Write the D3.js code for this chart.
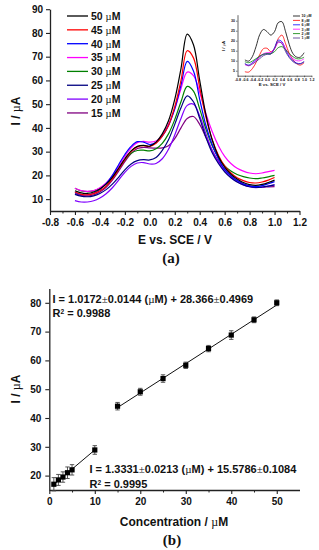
<!DOCTYPE html>
<html>
<head>
<meta charset="utf-8">
<script src="https://cdn.jsdelivr.net/npm/d3@7"></script>
<style>
  body { margin: 0; background: #fff; }
  svg { display: block; font-family: 'Liberation Sans', Arial, sans-serif; }
</style>
</head>
<body>
<div id="chart"></div>
<script>
// ---- (a) DPV curves ----
const voltages = [-0.6, -0.55, -0.5, -0.45, -0.4, -0.35, -0.3, -0.25, -0.2, -0.15, -0.1, -0.05, 0, 0.05, 0.1, 0.15,
  0.2, 0.25, 0.3, 0.35, 0.4, 0.45, 0.5, 0.55, 0.6, 0.65, 0.7, 0.75, 0.8, 0.85, 0.9, 0.95, 1.0]
const concLabels = ['50', '45', '40', '35', '30', '25', '20', '15']
const curveColors = ['#000000', '#ff0000', '#0000ff', '#ff00ff', '#008000', '#000080', '#8000ff', '#800080']
const i50 = [13.5, 12.6, 12.4, 13.0, 14.3, 16.3, 19.2, 23.0, 27.0, 30.3, 32.2, 32.6, 32.3, 34.0, 37.5, 43, 52, 65, 79.5, 75, 60, 45.5, 35, 28, 23.5, 20.5, 18.5, 17.0, 16.1, 15.8, 16.2, 17.0, 18.0]
const i45 = [13.0, 12.0, 11.8, 12.3, 13.5, 15.5, 18.5, 22.5, 26.5, 30.0, 32.0, 32.5, 32.2, 33.5, 36.5, 41, 49, 60, 72.5, 69.5, 57, 44.5, 35, 28.5, 24, 21, 19, 17.8, 17.0, 16.8, 17.2, 18.0, 19.1]
const i40 = [12.8, 11.9, 11.8, 12.5, 14.0, 16.5, 20.0, 24.5, 28.8, 32.2, 34.2, 34.0, 33.0, 33.8, 36.5, 41, 48, 58, 68, 64, 52, 41, 33, 27, 22.5, 19.8, 17.8, 16.5, 15.6, 15.3, 15.7, 16.5, 17.4]
const i35 = [14.6, 13.6, 13.3, 13.6, 14.8, 16.8, 19.8, 23.8, 28.0, 31.6, 33.8, 34.3, 34.0, 34.5, 37.0, 41.5, 48, 56.5, 63.5, 62, 55, 46, 38.5, 32.5, 28, 25, 23, 21.8, 21.0, 20.7, 21.0, 21.6, 22.1]
const i30 = [14.6, 13.5, 13.2, 13.5, 14.6, 16.5, 19.2, 22.8, 26.5, 29.3, 30.5, 30.6, 30.3, 31.2, 33.5, 37.5, 43.5, 51, 57.5, 55.5, 48, 39.5, 32.5, 27.5, 24, 21.8, 20.4, 19.5, 18.9, 18.6, 18.9, 19.4, 20.0]
const i25 = [12.0, 11.2, 11.0, 11.4, 12.4, 14.0, 16.3, 19.2, 22.3, 24.8, 26.2, 26.6, 26.5, 27.5, 30.5, 35, 41.5, 48.5, 53.5, 51, 44, 36, 29.5, 25, 21.5, 19, 17.2, 16.0, 15.2, 14.9, 15.1, 15.5, 16.0]
const i20 = [9.4, 8.8, 8.8, 9.3, 10.5, 12.3, 14.8, 18.0, 21.3, 23.8, 25.2, 25.4, 24.8, 25.0, 27.0, 31, 37, 44, 49.5, 50, 45, 37.5, 30.5, 25.5, 21.8, 19.2, 17.3, 16.0, 15.2, 14.8, 15.0, 15.5, 16.0]
const i15 = [12.3, 11.5, 11.3, 11.8, 13.0, 15.0, 18.0, 21.8, 25.8, 29.2, 31.3, 31.8, 31.6, 31.5, 31.6, 32.5, 35.5, 40, 44, 44.8, 41.5, 36, 30.5, 26, 22.5, 19.8, 17.8, 16.4, 15.5, 15.0, 15.0, 15.2, 15.3]
const mainSeries = [i50, i45, i40, i35, i30, i25, i20, i15]
const mainXTicks = [-0.8, -0.6, -0.4, -0.2, 0, 0.2, 0.4, 0.6, 0.8, 1.0, 1.2]
const mainYTicks = [10, 20, 30, 40, 50, 60, 70, 80, 90]

// ---- inset (low concentrations) ----
const insetVoltages = [-0.6, -0.5, -0.4, -0.3, -0.2, -0.1, 0, 0.1, 0.2, 0.3, 0.4, 0.5, 0.6, 0.7, 0.8, 0.9, 1.0]
const insetLabels = ['10', '8', '6', '3', '2', '1']
const insetColors = ['#000000', '#ff0000', '#0000ff', '#ff00ff', '#008000', '#4b2c8c']
const k10 = [10.4, 9.8, 12, 17, 23, 25.6, 24.5, 22.8, 24.5, 29, 29.5, 24.5, 18, 13.5, 11.8, 11.8, 14]
const k8 = [4.5, 4.3, 6, 9, 13, 16, 16.2, 14.5, 16, 21, 22.8, 18.5, 13.5, 10.5, 8.5, 7.8, 9]
const k6 = [8.5, 7.8, 9, 10.5, 12, 13.2, 13.5, 13.5, 16.5, 20.3, 19.5, 15.5, 12, 10, 8.8, 8.5, 9.5]
const k3 = [8, 7.5, 8.5, 10, 12, 13.5, 14, 14.2, 16, 19, 19, 16, 13, 11, 10, 10, 11]
const k2 = [9.5, 9, 9.8, 11, 12.3, 13.2, 13.5, 13.5, 14.5, 16.5, 17, 15.5, 13.5, 12, 11, 11, 11.8]
const k1 = [8.5, 7.5, 8.3, 9.5, 11, 12.5, 13.2, 13.3, 16, 19.5, 18.5, 14.5, 11.5, 9.5, 8.5, 8.5, 9.5]
const insetSeries = [k10, k8, k6, k3, k2, k1]
const insetYTicks = [5, 10, 15, 20, 25, 30]

// ---- (b) calibration ----
const conc = [1, 2, 3, 4, 5, 10, 15, 20, 25, 30, 35, 40, 45, 50]
const current = [17, 18.5, 19.5, 21, 22, 28.9, 44.1, 49.1, 53.7, 58.3, 64.1, 68.8, 74.1, 80]
const currentErr = [2.3, 1.9, 1.8, 2.0, 1.8, 1.5, 1.3, 1.2, 1.3, 1.1, 1.1, 1.5, 1.0, 1.0]
const fitSlopes = [1.3331, 1.0172]
const fitIntercepts = [15.5786, 28.366]
const fitRanges = [[1, 10], [15, 50]]
const calXTicks = [0, 10, 20, 30, 40, 50]
const calYTicks = [20, 30, 40, 50, 60, 70, 80]

const W = 319, H = 550
const svg = d3.select('#chart').append('svg').attr('width', W).attr('height', H)
svg.append('rect').attr('width', W).attr('height', H).attr('fill', '#fff')

const sans = "'Liberation Sans', Arial, sans-serif"
const serif = "'Liberation Serif', 'Times New Roman', serif"

function styleAxis(g, size) {
  g.select('.domain').attr('stroke', '#222').attr('stroke-width', 1.3)
  g.selectAll('.tick line').attr('stroke', '#222').attr('stroke-width', 1.1)
  g.selectAll('.tick text').attr('font-family', sans).attr('font-weight', 'bold')
    .attr('font-size', size).attr('fill', '#111')
}

// mixed text with serif µ / ±
function richText(sel, parts) {
  parts.forEach(p => {
    const t = sel.append('tspan').text(p.t)
    if (p.serif) t.attr('font-family', serif).attr('font-weight', 'normal')
    if (p.sup) t.attr('font-size', '0.6em').attr('baseline-shift', 'super')
  })
  return sel
}

// ================= (a) =================
const xA = d3.scaleLinear().domain([-0.8, 1.2]).range([50, 299.5])
const yA = d3.scaleLinear().domain([5, 90]).range([211, 9.2])

const gA = svg.append('g')
const axA = gA.append('g').attr('transform', `translate(0,${yA(5)})`)
  .call(d3.axisBottom(xA).tickValues(mainXTicks).tickSize(4).tickSizeOuter(0).tickPadding(4)
    .tickFormat(d => d.toFixed(1)))
styleAxis(axA, 10)
gA.append('g').attr('transform', `translate(0,${yA(5)})`)
  .call(d3.axisBottom(xA).tickValues(d3.range(-0.7, 1.2, 0.2)).tickSize(2.5).tickFormat(''))
  .call(g => { g.select('.domain').remove(); g.selectAll('line').attr('stroke', '#222') })
const ayA = gA.append('g').attr('transform', `translate(${xA(-0.8)},0)`)
  .call(d3.axisLeft(yA).tickValues(mainYTicks).tickSize(4).tickSizeOuter(0).tickPadding(3))
styleAxis(ayA, 10)

const lineA = d3.line()
  .x((d, i) => xA(voltages[i]))
  .y(d => yA(d))
  .curve(d3.curveCatmullRom)

gA.append('g').selectAll('path')
  .data(mainSeries.slice().reverse())
  .join('path')
  .attr('d', lineA)
  .attr('fill', 'none')
  .attr('stroke', (d, i) => curveColors[mainSeries.length - 1 - i])
  .attr('stroke-width', 1.2)

// legend
const legA = gA.append('g')
concLabels.forEach((c, i) => {
  const y = 16 + i * 13.85
  legA.append('line').attr('x1', 67).attr('x2', 88).attr('y1', y).attr('y2', y)
    .attr('stroke', curveColors[i]).attr('stroke-width', 1.3)
  richText(legA.append('text').attr('x', 91).attr('y', y + 3.8)
    .attr('font-size', 10.5).attr('font-weight', 'bold').attr('fill', '#111'),
    [{ t: c + ' ' }, { t: 'µ', serif: true }, { t: 'M' }])
})

gA.append('text').attr('x', 175).attr('y', 244).attr('text-anchor', 'middle')
  .attr('font-size', 12).attr('font-weight', 'bold').attr('fill', '#111').text('E vs. SCE / V')
richText(gA.append('text').attr('transform', 'translate(20,111) rotate(-90)').attr('text-anchor', 'middle')
  .attr('font-size', 12).attr('font-weight', 'bold').attr('fill', '#111'),
  [{ t: 'I / ' }, { t: 'µ', serif: true }, { t: 'A' }])
gA.append('text').attr('x', 171).attr('y', 263).attr('text-anchor', 'middle')
  .attr('font-family', serif).attr('font-size', 15).attr('font-weight', 'bold').attr('fill', '#111').text('(a)')

// ---- inset ----
const xI = d3.scaleLinear().domain([-0.8, 1.2]).range([237.5, 311.5])
const yI = d3.scaleLinear().domain([2.5, 33]).range([75.7, 14.7])
const gI = svg.append('g')
const axI = gI.append('g').attr('transform', `translate(0,${yI(2.5)})`)
  .call(d3.axisBottom(xI).tickValues(mainXTicks).tickSize(1.5).tickSizeOuter(0).tickPadding(1)
    .tickFormat(d => d.toFixed(1)))
styleAxis(axI, 3.6)
axI.select('.domain').attr('stroke-width', 0.7)
axI.selectAll('.tick line').attr('stroke-width', 0.6)
const ayI = gI.append('g').attr('transform', `translate(${xI(-0.8)},0)`)
  .call(d3.axisLeft(yI).tickValues(insetYTicks).tickSize(1.5).tickSizeOuter(0).tickPadding(1))
styleAxis(ayI, 3.6)
ayI.select('.domain').attr('stroke-width', 0.7)
ayI.selectAll('.tick line').attr('stroke-width', 0.6)

const lineI = d3.line()
  .x((d, i) => xI(insetVoltages[i]))
  .y(d => yI(d))
  .curve(d3.curveCatmullRom)
gI.append('g').selectAll('path')
  .data(insetSeries)
  .join('path')
  .attr('d', lineI)
  .attr('fill', 'none')
  .attr('stroke', (d, i) => insetColors[i])
  .attr('stroke-width', 0.8)

insetLabels.forEach((c, i) => {
  const y = 16 + i * 4.4
  gI.append('line').attr('x1', 293).attr('x2', 300).attr('y1', y).attr('y2', y)
    .attr('stroke', insetColors[i]).attr('stroke-width', 0.8)
  richText(gI.append('text').attr('x', 301.5).attr('y', y + 1.3)
    .attr('font-size', 3.6).attr('font-weight', 'bold').attr('fill', '#111'),
    [{ t: c + ' ' }, { t: 'µ', serif: true }, { t: 'M' }])
})
gI.append('text').attr('x', 272).attr('y', 86).attr('text-anchor', 'middle')
  .attr('font-size', 4.3).attr('font-weight', 'bold').attr('fill', '#111').text('E vs. SCE / V')
richText(gI.append('text').attr('transform', 'translate(225,46) rotate(-90)').attr('text-anchor', 'middle')
  .attr('font-size', 4.3).attr('font-weight', 'bold').attr('fill', '#111'),
  [{ t: 'I / ' }, { t: 'µ', serif: true }, { t: 'A' }])

// ================= (b) =================
const xB = d3.scaleLinear().domain([0, 55]).range([49.3, 299.5])
const yB = d3.scaleLinear().domain([15, 85]).range([490, 288.4])
const gB = svg.append('g')
const axB = gB.append('g').attr('transform', `translate(0,${yB(15)})`)
  .call(d3.axisBottom(xB).tickValues(calXTicks).tickSize(4).tickSizeOuter(0).tickPadding(4))
styleAxis(axB, 10)
gB.append('g').attr('transform', `translate(0,${yB(15)})`)
  .call(d3.axisBottom(xB).tickValues([5, 15, 25, 35, 45]).tickSize(2.5).tickFormat(''))
  .call(g => { g.select('.domain').remove(); g.selectAll('line').attr('stroke', '#222') })
const ayB = gB.append('g').attr('transform', `translate(${xB(0)},0)`)
  .call(d3.axisLeft(yB).tickValues(calYTicks).tickSize(4).tickSizeOuter(0).tickPadding(4))
styleAxis(ayB, 10)

// fitted lines
gB.append('g').selectAll('line')
  .data(fitSlopes)
  .join('line')
  .attr('x1', (d, i) => xB(fitRanges[i][0]))
  .attr('x2', (d, i) => xB(fitRanges[i][1]))
  .attr('y1', (d, i) => yB(fitIntercepts[i] + d * fitRanges[i][0]))
  .attr('y2', (d, i) => yB(fitIntercepts[i] + d * fitRanges[i][1]))
  .attr('stroke', '#111').attr('stroke-width', 1)

// error bars
const pts = conc.map((c, i) => ({ c, v: current[i], e: currentErr[i] }))
const eb = gB.append('g').attr('stroke', '#444').attr('stroke-width', 0.9)
eb.selectAll('line.v').data(pts).join('line').attr('class', 'v')
  .attr('x1', d => xB(d.c)).attr('x2', d => xB(d.c))
  .attr('y1', d => yB(d.v - d.e)).attr('y2', d => yB(d.v + d.e))
eb.selectAll('line.t').data(pts).join('line').attr('class', 't')
  .attr('x1', d => xB(d.c) - 2.2).attr('x2', d => xB(d.c) + 2.2)
  .attr('y1', d => yB(d.v + d.e)).attr('y2', d => yB(d.v + d.e))
eb.selectAll('line.b').data(pts).join('line').attr('class', 'b')
  .attr('x1', d => xB(d.c) - 2.2).attr('x2', d => xB(d.c) + 2.2)
  .attr('y1', d => yB(d.v - d.e)).attr('y2', d => yB(d.v - d.e))

gB.append('g').selectAll('rect')
  .data(pts)
  .join('rect')
  .attr('x', d => xB(d.c) - 2.6).attr('y', d => yB(d.v) - 2.6)
  .attr('width', 5.2).attr('height', 5.2)
  .attr('fill', '#000')

function equation(x, y, parts) {
  return richText(gB.append('text').attr('x', x).attr('y', y)
    .attr('font-size', 11).attr('font-weight', 'bold').attr('fill', '#111'), parts)
}
equation(52.5, 302.5, [{ t: 'I = 1.0172' }, { t: '±', serif: true }, { t: '0.0144 (' }, { t: 'µ', serif: true },
  { t: 'M) + 28.366' }, { t: '±', serif: true }, { t: '0.4969' }])
equation(52.5, 317, [{ t: 'R' }, { t: '2', sup: true }, { t: ' = 0.9988' }])
equation(89.5, 472.5, [{ t: 'I = 1.3331' }, { t: '±', serif: true }, { t: '0.0213 (' }, { t: 'µ', serif: true },
  { t: 'M) + 15.5786' }, { t: '±', serif: true }, { t: '0.1084' }])
equation(89.5, 487.5, [{ t: 'R' }, { t: '2', sup: true }, { t: ' = 0.9995' }])

richText(gB.append('text').attr('x', 174).attr('y', 526).attr('text-anchor', 'middle')
  .attr('font-size', 12).attr('font-weight', 'bold').attr('fill', '#111'),
  [{ t: 'Concentration / ' }, { t: 'µ', serif: true }, { t: 'M' }])
richText(gB.append('text').attr('transform', 'translate(20,389) rotate(-90)').attr('text-anchor', 'middle')
  .attr('font-size', 12).attr('font-weight', 'bold').attr('fill', '#111'),
  [{ t: 'I / ' }, { t: 'µ', serif: true }, { t: 'A' }])
gB.append('text').attr('x', 172).attr('y', 545).attr('text-anchor', 'middle')
  .attr('font-family', serif).attr('font-size', 15).attr('font-weight', 'bold').attr('fill', '#111').text('(b)')
</script>
</body>
</html>
